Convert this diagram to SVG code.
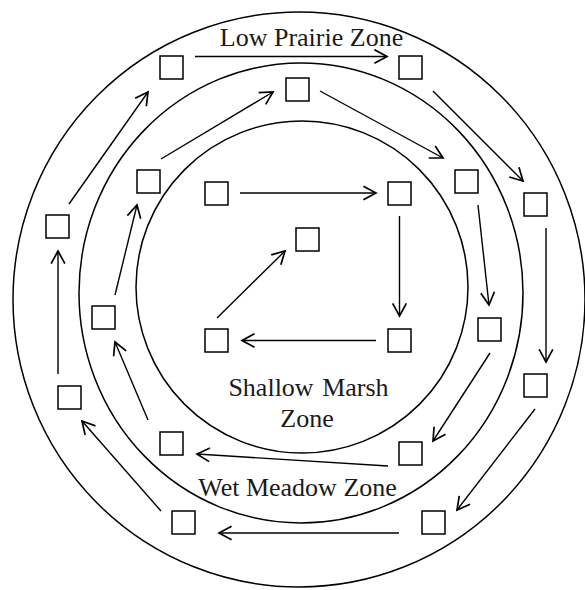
<svg xmlns="http://www.w3.org/2000/svg" width="585" height="590" viewBox="0 0 585 590">
<style>
.ring{fill:none;stroke:#000;stroke-width:1.5}
.box{fill:#fff;stroke:#000;stroke-width:1.5}
.arr{fill:none;stroke:#000;stroke-width:1.4;marker-end:url(#ah)}
.lbl{font-family:"Liberation Serif","Times New Roman",serif;font-size:26px;fill:#1a1a1a;text-anchor:middle}
</style>
<defs>
<marker id="ah" markerUnits="userSpaceOnUse" markerWidth="16" markerHeight="16" viewBox="-12 -7 14 14" refX="0" refY="0" orient="auto">
<path d="M-11,-6 L0,0 L-11,6" fill="none" stroke="#000" stroke-width="1.5"/>
</marker>
</defs>
<rect width="585" height="590" fill="#fff"/>
<g id="zones">
<ellipse class="ring" cx="299" cy="299.5" rx="286" ry="287.5"/>
<ellipse class="ring" cx="301" cy="293" rx="222" ry="230"/>
<ellipse class="ring" cx="302" cy="287" rx="166" ry="166"/>
</g>
<g id="labels">
<text class="lbl" x="311.5" y="46">Low Prairie Zone</text>
<text class="lbl" x="308.5" y="396" word-spacing="2">Shallow Marsh</text>
<text class="lbl" x="307" y="427">Zone</text>
<text class="lbl" x="297.5" y="496">Wet Meadow Zone</text>
</g>
<g id="connectors">
<line class="arr" x1="240" y1="193" x2="376" y2="193"/>
<line class="arr" x1="399.5" y1="216" x2="399.5" y2="316"/>
<line class="arr" x1="376" y1="340.5" x2="242" y2="340.5"/>
<line class="arr" x1="217" y1="318" x2="285" y2="251"/>
<line class="arr" x1="161" y1="159" x2="273" y2="92"/>
<line class="arr" x1="320" y1="91" x2="443" y2="158"/>
<line class="arr" x1="478" y1="205" x2="489" y2="305"/>
<line class="arr" x1="490" y1="353" x2="433" y2="441"/>
<line class="arr" x1="388" y1="466" x2="197" y2="454"/>
<line class="arr" x1="148" y1="420" x2="115" y2="342"/>
<line class="arr" x1="115" y1="295" x2="137" y2="205"/>
<line class="arr" x1="195" y1="56.5" x2="387" y2="56.5"/>
<line class="arr" x1="433" y1="91" x2="523" y2="181"/>
<line class="arr" x1="546" y1="228" x2="546" y2="362"/>
<line class="arr" x1="535" y1="409" x2="457" y2="510"/>
<line class="arr" x1="399" y1="533" x2="219" y2="533"/>
<line class="arr" x1="161" y1="511" x2="82" y2="421"/>
<line class="arr" x1="58" y1="374" x2="58" y2="251"/>
<line class="arr" x1="69" y1="204" x2="148" y2="92"/>
</g>
<g id="n1"><rect class="box" x="160" y="56" width="23" height="23"/></g>
<g id="n2"><rect class="box" x="399" y="56" width="23" height="23"/></g>
<g id="n3"><rect class="box" x="524" y="193" width="23" height="23"/></g>
<g id="n4"><rect class="box" x="524" y="374" width="23" height="23"/></g>
<g id="n5"><rect class="box" x="422" y="511" width="23" height="23"/></g>
<g id="n6"><rect class="box" x="172" y="511" width="23" height="23"/></g>
<g id="n7"><rect class="box" x="58" y="386" width="23" height="23"/></g>
<g id="n8"><rect class="box" x="46" y="215" width="23" height="23"/></g>
<g id="m1"><rect class="box" x="286" y="78" width="23" height="23"/></g>
<g id="m2"><rect class="box" x="455" y="170" width="23" height="23"/></g>
<g id="m3"><rect class="box" x="478" y="318" width="23" height="23"/></g>
<g id="m4"><rect class="box" x="399" y="442" width="23" height="23"/></g>
<g id="m5"><rect class="box" x="160" y="432" width="23" height="23"/></g>
<g id="m6"><rect class="box" x="92" y="306" width="23" height="23"/></g>
<g id="m7"><rect class="box" x="137" y="170" width="23" height="23"/></g>
<g id="s1"><rect class="box" x="205" y="182" width="23" height="23"/></g>
<g id="s2"><rect class="box" x="388" y="182" width="23" height="23"/></g>
<g id="s3"><rect class="box" x="296" y="228" width="23" height="23"/></g>
<g id="s4"><rect class="box" x="388" y="329" width="23" height="23"/></g>
<g id="s5"><rect class="box" x="205" y="329" width="23" height="23"/></g>
</svg>
